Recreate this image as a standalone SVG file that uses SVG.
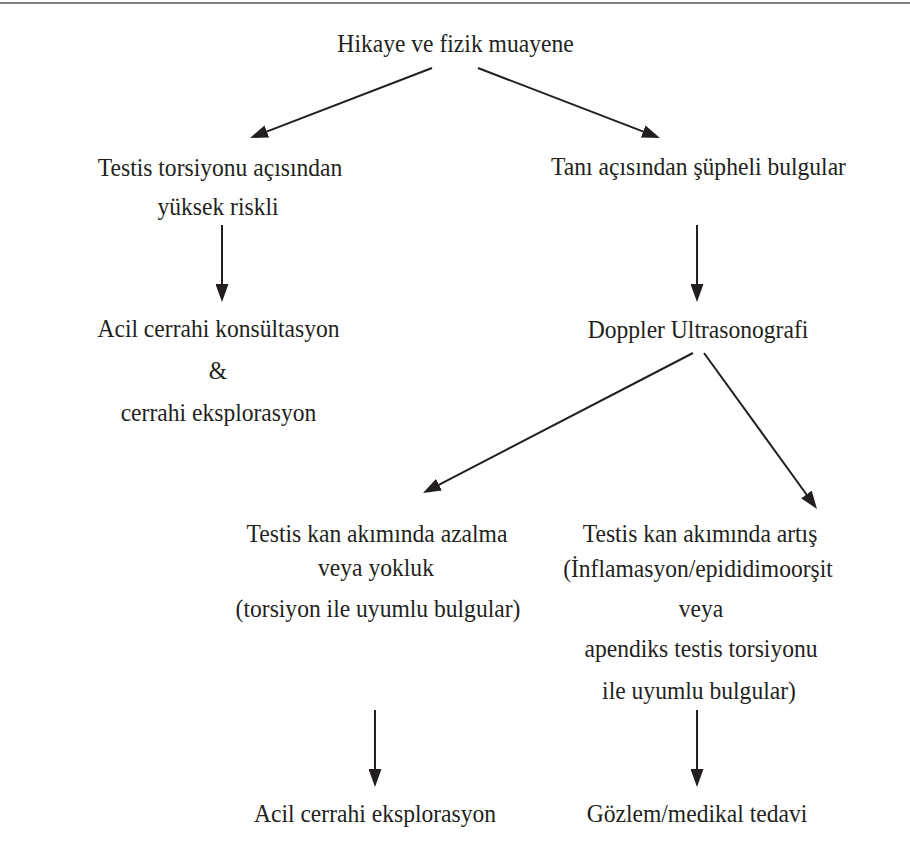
<svg xmlns="http://www.w3.org/2000/svg" width="910" height="855" viewBox="0 0 910 855">
<style>
text{font-family:"Liberation Serif","Times New Roman",serif;font-size:25.5px;fill:#231f20;text-anchor:middle}
.conn line{stroke:#231f20;stroke-width:2;fill:none}
</style>
<defs>
<marker id="ah" markerUnits="userSpaceOnUse" markerWidth="18" markerHeight="13" refX="10" refY="6.5" orient="auto">
<path d="M0,0 L18,6.5 L0,13 Z" fill="#231f20"/>
</marker>
</defs>
<rect width="910" height="855" fill="#ffffff"/>
<line x1="0" y1="3" x2="910" y2="3" stroke="#555555" stroke-width="1.5"/>
<g class="conn">
<line x1="432" y1="68" x2="257.5" y2="135.1" marker-end="url(#ah)"/>
<line x1="478" y1="68" x2="652.5" y2="135.1" marker-end="url(#ah)"/>
<line x1="222" y1="225" x2="222" y2="294" marker-end="url(#ah)"/>
<line x1="697" y1="225" x2="697" y2="294" marker-end="url(#ah)"/>
<line x1="693" y1="353" x2="430.1" y2="489.3" marker-end="url(#ah)"/>
<line x1="704" y1="353" x2="812.3" y2="502.5" marker-end="url(#ah)"/>
<line x1="375" y1="710" x2="375" y2="779" marker-end="url(#ah)"/>
<line x1="697" y1="710" x2="697" y2="779" marker-end="url(#ah)"/>
</g>
<g id="history"><text transform="translate(455.5,52) scale(0.925,1)">Hikaye ve fizik muayene</text></g>
<g id="high-risk">
<text transform="translate(220,175.5) scale(0.925,1)">Testis torsiyonu açısından</text>
<text transform="translate(218,215) scale(0.925,1)">yüksek riskli</text>
</g>
<g id="suspicious"><text transform="translate(698.5,175) scale(0.925,1)">Tanı açısından şüpheli bulgular</text></g>
<g id="surgical-consult">
<text transform="translate(218.5,337) scale(0.925,1)">Acil cerrahi konsültasyon</text>
<text transform="translate(218,379) scale(0.925,1)">&amp;</text>
<text transform="translate(218.5,421) scale(0.925,1)">cerrahi eksplorasyon</text>
</g>
<g id="doppler"><text transform="translate(698,338) scale(0.925,1)">Doppler Ultrasonografi</text></g>
<g id="decreased">
<text transform="translate(377,542) scale(0.925,1)">Testis kan akımında azalma</text>
<text transform="translate(376,576) scale(0.925,1)">veya yokluk</text>
<text transform="translate(378,617) scale(0.925,1)">(torsiyon ile uyumlu bulgular)</text>
</g>
<g id="increased">
<text transform="translate(700,542) scale(0.925,1)">Testis kan akımında artış</text>
<text transform="translate(698,577) scale(0.925,1)">(İnflamasyon/epididimoorşit</text>
<text transform="translate(701,617) scale(0.925,1)">veya</text>
<text transform="translate(701,657) scale(0.925,1)">apendiks testis torsiyonu</text>
<text transform="translate(699,699) scale(0.925,1)">ile uyumlu bulgular)</text>
</g>
<g id="explore"><text transform="translate(375,822) scale(0.925,1)">Acil cerrahi eksplorasyon</text></g>
<g id="observe"><text transform="translate(697,822) scale(0.925,1)">Gözlem/medikal tedavi</text></g>
</svg>
